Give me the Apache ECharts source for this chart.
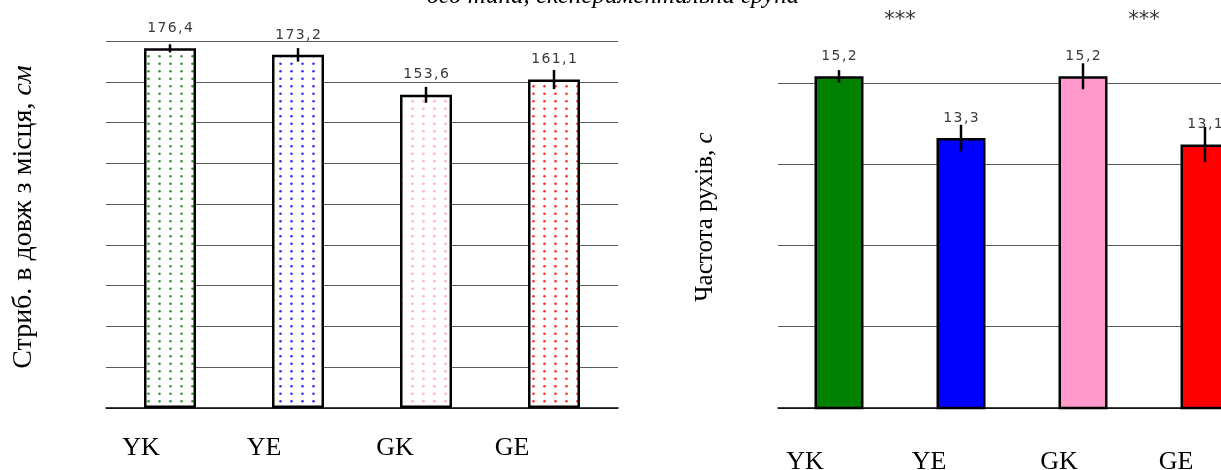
<!DOCTYPE html>
<html>
<head>
<meta charset="utf-8">
<script src="https://cdn.jsdelivr.net/npm/echarts@6/dist/echarts.min.js"></script>
<style>html,body{margin:0;padding:0;background:#fff;}#c{width:1221px;height:470px;}</style>
</head>
<body>
<div id="c"></div>
<script>
// ---- data ----
const categories = ['YK', 'YE', 'GK', 'GE'];
const jumpValues = [176.4, 173.2, 153.6, 161.1];
const jumpErrors = [2.0, 3.3, 3.9, 4.7];
const freqValues = [15.2, 13.3, 15.2, 13.1];
const freqErrors = [0.19, 0.41, 0.40, 0.54];
const significance = ['***', '***'];
const leftAxisTitle = 'Стриб. в довж з місця, ';
const leftAxisUnit = 'см';
const rightAxisTitle = 'Частота рухів, ';
const rightAxisUnit = 'с';
const topText = 'ого типа, експериментальна група';

// ---- styles ----
const dotColors = ['#3a9a3a', '#3535ff', '#ffb0d0', '#ff3030'];
const solidColors = ['#008000', '#0000ff', '#ff99cc', '#ff0000'];
const leftLabelShift = [29, 34, 31, 42];
const rightLabelShift = [34, 32, 24, 29];

function dotPattern(color) {
  const c = document.createElement('canvas');
  c.width = 11; c.height = 15;
  const g = c.getContext('2d');
  g.fillStyle = '#fff'; g.fillRect(0, 0, 11, 15);
  g.fillStyle = color;
  [[5.5, 3.75], [5.5, 11.25]].forEach(p => { g.beginPath(); g.arc(p[0], p[1], 1.35, 0, Math.PI * 2); g.fill(); });
  return { image: c, repeat: 'repeat' };
}

// value label: decimal comma, characters slightly spaced like the original
const fmt = v => v.toFixed(1).replace('.', ',').split('').join('\u200A');

function richShift(shifts) {
  const r = {};
  shifts.forEach((d, i) => { r['o' + i] = { padding: [0, 2 * d, 0, 0], fontFamily: 'Liberation Serif', fontSize: 26, color: '#000' }; });
  return r;
}

function errSeries(xi, yi, vals, errs) {
  return {
    type: 'custom', xAxisIndex: xi, yAxisIndex: yi, silent: true, z: 10,
    data: vals.map((v, i) => [i, v - errs[i], v + errs[i]]),
    renderItem: (params, api) => {
      const a = api.coord([api.value(0), api.value(1)]);
      const b = api.coord([api.value(0), api.value(2)]);
      return { type: 'line', shape: { x1: a[0], y1: a[1], x2: b[0], y2: b[1] }, style: { stroke: '#000', lineWidth: 2.5 } };
    }
  };
}

const chart = echarts.init(document.getElementById('c'), null, { renderer: 'canvas' });

const labelStyle = { show: true, position: 'top', distance: 13, fontFamily: 'DejaVu Sans', fontSize: 14, color: '#3a3a3a', formatter: p => fmt(p.value) };

const option = {
  animation: false,
  backgroundColor: '#fff',
  grid: [
    { left: 106, width: 512, top: 41, bottom: 62, outerBoundsMode: 'none', containLabel: false },
    { left: 778, width: 488, top: 1.5, bottom: 62, outerBoundsMode: 'none', containLabel: false }
  ],
  xAxis: [
    { type: 'category', gridIndex: 0, data: categories,
      axisLine: { lineStyle: { color: '#000', width: 1.5 } }, axisTick: { show: false },
      axisLabel: { margin: 27, formatter: (v, i) => '{o' + i + '|' + v + '}', rich: richShift(leftLabelShift) } },
    { type: 'category', gridIndex: 1, data: categories,
      axisLine: { lineStyle: { color: '#000', width: 1.5 } }, axisTick: { show: false },
      axisLabel: { margin: 41, formatter: (v, i) => '{o' + i + '|' + v + '}', rich: richShift(rightLabelShift) } }
  ],
  yAxis: [
    { type: 'value', gridIndex: 0, min: 0, max: 180, interval: 20,
      axisLine: { show: false }, axisTick: { show: false }, axisLabel: { show: false },
      splitLine: { lineStyle: { color: '#5a5a5a', width: 1.2 } } },
    { type: 'value', gridIndex: 1, min: 5, max: 17.5, interval: 2.5,
      axisLine: { show: false }, axisTick: { show: false }, axisLabel: { show: false },
      splitLine: { lineStyle: { color: ['#5a5a5a', '#5a5a5a', '#5a5a5a', '#5a5a5a', '#5a5a5a', 'rgba(0,0,0,0)'], width: 1.2 } } }
  ],
  series: [
    { type: 'bar', xAxisIndex: 0, yAxisIndex: 0, barWidth: 52,
      data: jumpValues.map((v, i) => ({ value: v, itemStyle: { color: dotPattern(dotColors[i]), borderColor: '#000', borderWidth: 2.5 } })),
      label: labelStyle },
    errSeries(0, 0, jumpValues, jumpErrors),
    { type: 'bar', xAxisIndex: 1, yAxisIndex: 1, barWidth: 49,
      data: freqValues.map((v, i) => ({ value: v, itemStyle: { color: solidColors[i], borderColor: '#000', borderWidth: 2.5 } })),
      label: labelStyle },
    errSeries(1, 1, freqValues, freqErrors)
  ]
};
chart.setOption(option);

// significance stars between pairs, axis titles, and the clipped caption at top
const px = categories.map(c => chart.convertToPixel({ xAxisIndex: 1 }, c));
const serif = 'Liberation Serif';
chart.setOption({
  graphic: [
    { type: 'text', x: (px[0] + px[1]) / 2, y: 21, style: { text: significance[0], fontFamily: 'DejaVu Sans', fontSize: 21, fill: '#333', align: 'center', verticalAlign: 'middle' } },
    { type: 'text', x: (px[2] + px[3]) / 2, y: 21, style: { text: significance[1], fontFamily: 'DejaVu Sans', fontSize: 21, fill: '#333', align: 'center', verticalAlign: 'middle' } },
    { type: 'text', x: 613, y: 9, style: { text: topText, fontFamily: serif, fontStyle: 'italic', fontSize: 25, fill: '#000', align: 'center', verticalAlign: 'bottom' } },
    { type: 'text', x: 24, y: 217, rotation: Math.PI / 2,
      style: { text: '{a|' + leftAxisTitle + '}{b|' + leftAxisUnit + '}', align: 'center', verticalAlign: 'middle',
        rich: { a: { fontFamily: serif, fontSize: 28, fill: '#000' }, b: { fontFamily: serif, fontStyle: 'italic', fontSize: 28, fill: '#000' } } } },
    { type: 'text', x: 705, y: 217, rotation: Math.PI / 2,
      style: { text: '{a|' + rightAxisTitle + '}{b|' + rightAxisUnit + '}', align: 'center', verticalAlign: 'middle',
        rich: { a: { fontFamily: serif, fontSize: 25, fill: '#000' }, b: { fontFamily: serif, fontStyle: 'italic', fontSize: 25, fill: '#000' } } } }
  ]
});
</script>
</body>
</html>
